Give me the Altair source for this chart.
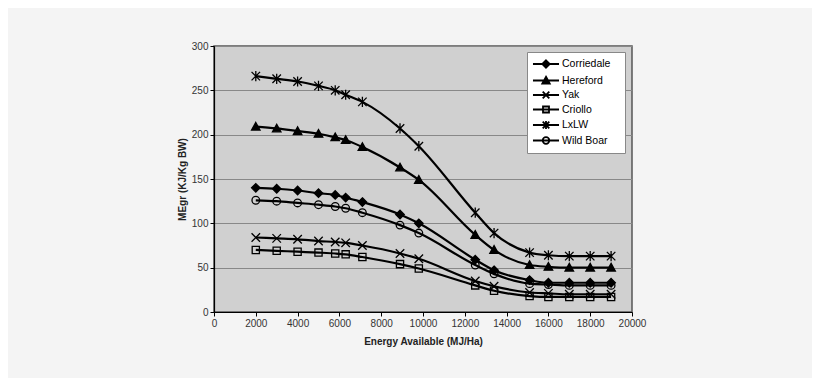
import altair as alt
import pandas as pd

energy = [2000, 3000, 4000, 5000, 5800, 6300, 7100, 8900, 9800,
          12500, 13400, 15100, 16000, 17000, 18000, 19000]

breeds = ["Corriedale", "Hereford", "Yak", "Criollo", "LxLW", "Wild Boar"]

corriedale = [140, 139, 137, 134, 132, 129, 124, 110, 100, 59, 47, 36, 33, 33, 33, 33]
hereford = [209, 207, 204, 201, 197, 194, 186, 163, 149, 87, 70, 53, 51, 50, 50, 50]
yak = [84, 83, 82, 80, 79, 78, 75, 66, 60, 35, 29, 22, 21, 20, 20, 20]
criollo = [70, 69, 68, 67, 66, 65, 62, 54, 49, 30, 24, 18, 17, 17, 17, 17]
lxlw = [266, 263, 260, 255, 250, 245, 237, 207, 187, 112, 89, 67, 64, 63, 63, 63]
wild_boar = [126, 125, 123, 121, 119, 117, 112, 98, 89, 53, 43, 32, 31, 30, 30, 30]

series = [corriedale, hereford, yak, criollo, lxlw, wild_boar]

x_ticks = list(range(0, 20001, 2000))
y_ticks = list(range(0, 301, 50))

rows = []
for name, vals in zip(breeds, series):
    for e, v in zip(energy, vals):
        rows.append({"breed": name, "energy": e, "megr": v})
df = pd.DataFrame(rows)

# marker shapes (plot)
plot_shapes = [
    "M0,-1L1,0L0,1L-1,0Z",
    "M0,-1L1,0.8L-1,0.8Z",
    "M-1,-1L1,1M1,-1L-1,1",
    "M-0.85,-0.85H0.85V0.85H-0.85Z",
    "M-1,-1L1,1M1,-1L-1,1M0,-1.2L0,1.2",
    "M-0.9,0A0.9,0.9 0 1,0 0.9,0A0.9,0.9 0 1,0 -0.9,0Z",
]
# legend shapes: line through marker (solid ones drawn as nested outlines)
ln = "M-2.17,0L2.17,0"
legend_shapes = [
    ln + "M0,-0.62L0.62,0L0,0.62L-0.62,0Z"
         "M0,-0.42L0.42,0L0,0.42L-0.42,0Z"
         "M0,-0.22L0.22,0L0,0.22L-0.22,0Z",
    ln + "M0,-0.62L0.62,0.5L-0.62,0.5Z"
         "M0,-0.37L0.4,0.37L-0.4,0.37Z"
         "M0,-0.12L0.2,0.25L-0.2,0.25Z",
    ln + "M-0.55,-0.55L0.55,0.55M0.55,-0.55L-0.55,0.55",
    ln + "M-0.5,-0.5H0.5V0.5H-0.5Z",
    ln + "M-0.55,-0.55L0.55,0.55M0.55,-0.55L-0.55,0.55M0,-0.65L0,0.65",
    ln + "M-0.55,0A0.55,0.55 0 1,0 0.55,0A0.55,0.55 0 1,0 -0.55,0Z",
]
fills = ["black", "black", "transparent", "transparent", "transparent", "transparent"]

x_enc = alt.X("energy:Q", scale=alt.Scale(domain=[0, 20000], nice=False),
              axis=alt.Axis(values=x_ticks, title="Energy Available (MJ/Ha)",
                            grid=False, format="d", labelFlush=False))
y_enc = alt.Y("megr:Q", scale=alt.Scale(domain=[0, 300], nice=False),
              axis=alt.Axis(values=y_ticks, title="MEgr (KJ/Kg BW)", grid=True))

base = alt.Chart(df)

lines = base.mark_line(color="black", strokeWidth=2.2, interpolate="monotone").encode(
    x=x_enc, y=y_enc, detail="breed:N"
)

points = base.mark_point(stroke="black", strokeWidth=1.3, size=72, opacity=1).encode(
    x=x_enc, y=y_enc,
    shape=alt.Shape("breed:N", scale=alt.Scale(domain=breeds, range=plot_shapes), legend=None),
    fill=alt.Fill("breed:N", scale=alt.Scale(domain=breeds, range=fills), legend=None),
)

legend_layer = base.mark_point(stroke="black", strokeWidth=1.8, size=144, opacity=0).encode(
    x=x_enc, y=y_enc,
    shape=alt.Shape("breed:N", scale=alt.Scale(domain=breeds, range=legend_shapes),
                    legend=alt.Legend(title=".", titleOrient="right", titleColor="white",
                                      titleFontSize=4, titlePadding=8,
                                      orient="none", legendX=313, legendY=6,
                                      fillColor="white", strokeColor="#888888",
                                      padding=5, symbolOffset=7, labelOffset=9,
                                      rowPadding=0.5, labelFontSize=10.5,
                                      labelFont="Liberation Sans", labelColor="black",
                                      symbolStrokeWidth=1.8, symbolSize=144,
                                      symbolOpacity=1, symbolStrokeColor="black")),
)

chart = alt.layer(lines, points, legend_layer).resolve_scale(
    shape="independent", fill="independent"
).properties(
    width=418, height=266,
    autosize=alt.AutoSizeParams(type="none"),
    padding={"left": 206, "top": 38, "right": 180, "bottom": 66},
    background="#f4f4f4",
).configure_view(
    fill="#d0d0d0", stroke="#555555", strokeWidth=1.5
).configure_axis(
    labelFont="Liberation Sans", labelFontSize=10, labelColor="#333333",
    titleFont="Liberation Sans", titleFontSize=10, titleFontWeight="bold",
    titleColor="#222222", domainColor="black", domainWidth=1.2,
    tickColor="black", tickSize=4, gridColor="#888888", gridWidth=1,
    labelPadding=2,
).configure_axisX(
    titlePadding=8,
).configure_axisY(
    titlePadding=4,
)

chart.save("out.html", embed_options={"renderer": "svg", "actions": False})
